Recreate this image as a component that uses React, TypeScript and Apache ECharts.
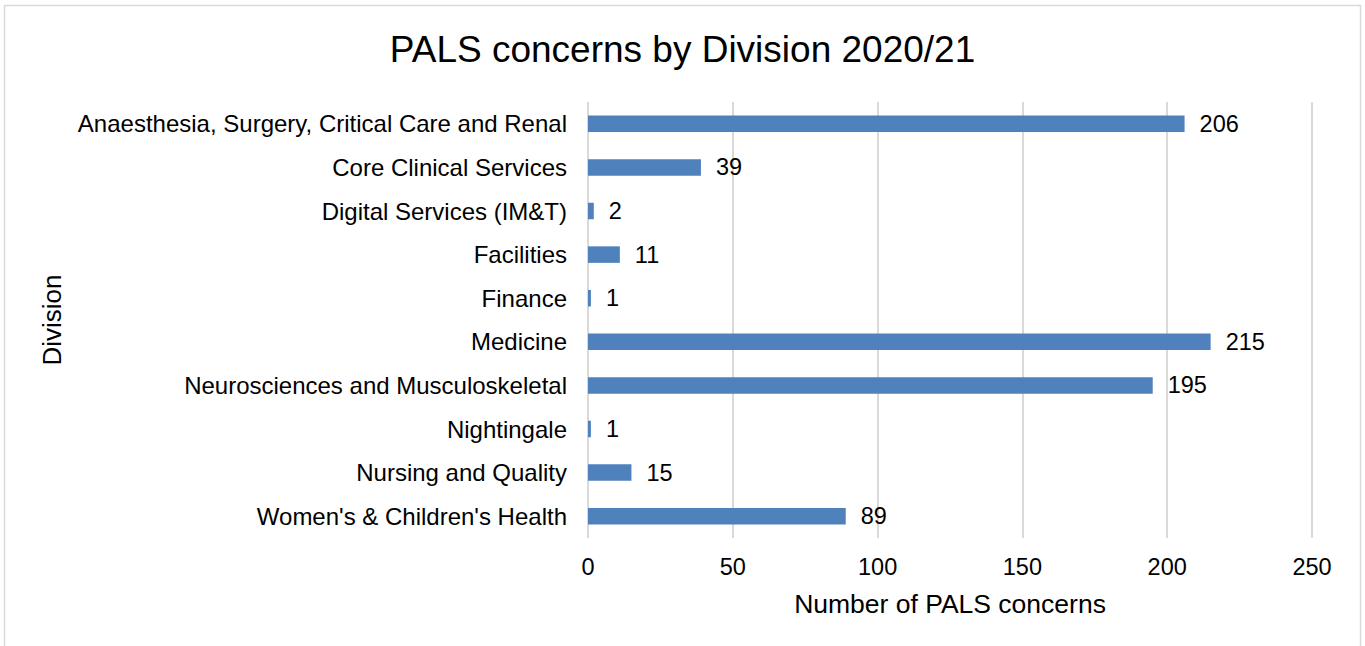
import React, { useEffect, useRef } from "react";
import * as echarts from "echarts";

const categories = [
  "Anaesthesia, Surgery, Critical Care and Renal",
  "Core Clinical Services",
  "Digital Services (IM&T)",
  "Facilities",
  "Finance",
  "Medicine",
  "Neurosciences and Musculoskeletal",
  "Nightingale",
  "Nursing and Quality",
  "Women's & Children's Health",
];
const concerns = [206, 39, 2, 11, 1, 215, 195, 1, 15, 89];
const titleText = "PALS concerns by Division 2020/21";
const xAxisTitle = "Number of PALS concerns";
const yAxisTitle = "Division";

const FONT = "'Liberation Sans', Arial, sans-serif";

export default function App() {
  const ref = useRef<HTMLDivElement>(null);
  useEffect(() => {
    document.body.style.margin = "0";
    const chart = echarts.init(ref.current!, null, { renderer: "svg" });
    chart.setOption({
      animation: false,
      backgroundColor: "#ffffff",
      textStyle: { fontFamily: FONT, color: "#000" },
      title: {
        text: titleText,
        left: "center",
        top: 26,
        textStyle: { fontFamily: FONT, fontSize: 37, fontWeight: "normal", color: "#000" },
      },
      graphic: [
        {
          type: "rect",
          shape: { x: 4.5, y: 5.5, width: 1356, height: 700 },
          style: { fill: "none", stroke: "#d9d9d9", lineWidth: 1.5 },
          silent: true,
        },
      ],
      grid: { left: 588, top: 102, width: 724, height: 436 },
      xAxis: {
        type: "value",
        min: 0,
        max: 250,
        interval: 50,
        name: xAxisTitle,
        nameLocation: "middle",
        nameGap: 52,
        nameTextStyle: { fontFamily: FONT, fontSize: 26.5, color: "#000" },
        axisLine: { show: false },
        axisTick: { show: false },
        axisLabel: { fontFamily: FONT, fontSize: 23.5, color: "#000", margin: 17 },
        splitLine: { show: true, lineStyle: { color: "#d9d9d9", width: 2 } },
      },
      yAxis: {
        type: "category",
        data: categories,
        inverse: true,
        name: yAxisTitle,
        nameLocation: "middle",
        nameGap: 523,
        nameRotate: 90,
        nameTextStyle: { fontFamily: FONT, fontSize: 26, color: "#000" },
        axisLine: { show: false },
        axisTick: { show: false },
        axisLabel: { fontFamily: FONT, fontSize: 24, color: "#000", margin: 21 },
        splitLine: { show: false },
      },
      series: [
        {
          type: "bar",
          data: concerns,
          barWidth: 16.5,
          itemStyle: { color: "#4f81bd" },
          label: {
            show: true,
            position: "right",
            distance: 15,
            fontFamily: FONT,
            fontSize: 23.5,
            color: "#000",
          },
        },
      ],
    });
    return () => chart.dispose();
  }, []);
  return <div ref={ref} style={{ width: 1365, height: 646 }} />;
}
